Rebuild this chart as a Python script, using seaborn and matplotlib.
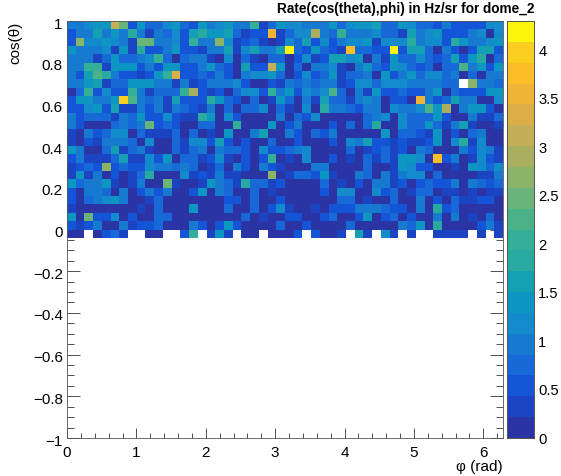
# ROOT style rate map of cos(theta) vs phi
import pandas as pd
import numpy as np
import seaborn as sns
import matplotlib
matplotlib.use('Agg')
import matplotlib.pyplot as plt
from matplotlib.colors import ListedColormap
from matplotlib.transforms import ScaledTranslation

nan = float('nan')

# rate per bin, top row (cos = 1) first, 50 phi bins per row
rate = [
 [1.0,0.9,1.2,1.4,1.3,3.2,2.5,0.5,1.3,0.7,0.7,1.2,1.3,0.8,0.5,1.4, 0.9,1.1,1.3,1.0,1.0,2.0,0.4,0.8,1.5,1.2,1.2,1.0,1.0,1.0,1.3,0.7,1.1, 1.4,1.5,1.7,0.8,0.8,1.5,1.2,0.7,0.7,0.5,0.9,0.6,0.6,0.6,0.6,1.1,1.1],
 [0.5,1.0,1.0,1.7,1.0,1.4,1.0,1.9,1.0,0.3,1.0,0.8,1.2,0.6,1.6,1.8, 1.3,1.3,1.7,0.7,0.3,0.5,0.5,3.6,0.3,0.7,1.2,1.2,3.0,1.0,0.7,2.0,1.0, 1.0,1.0,1.1,0.8,0.7,0.3,1.6,1.0,1.2,1.3,0.6,0.6,0.6,0.9,1.1,0.2,1.2],
 [0.5,2.6,1.2,1.2,1.4,1.2,0.9,0.3,2.5,2.5,1.0,0.9,1.2,0.5,2.0,1.0, 1.0,2.6,1.1,0.3,0.5,0.7,0.3,0.2,0.3,1.2,0.7,1.6,0.6,1.2,0.6,1.0,1.2, 1.1,1.4,0.3,1.2,1.2,1.1,1.8,1.0,1.1,1.2,0.6,1.9,1.5,0.9,1.0,1.1,1.3],
 [1.4,1.0,1.0,1.0,1.2,0.3,1.5,0.3,1.8,0.6,0.6,1.0,1.5,0.5,0.6,0.3, 1.0,1.0,1.7,0.4,1.1,1.6,1.0,1.0,1.7,4.3,0.8,0.6,1.5,0.8,0.5,0.3,3.8, 0.7,0.7,0.5,0.5,4.1,0.5,1.7,1.7,0.8,0.2,1.0,0.6,0.2,0.6,1.6,1.7,0.6],
 [1.0,1.0,1.0,0.3,0.7,1.5,0.8,0.8,1.0,1.1,2.0,0.8,0.2,0.8,0.9,1.0, 0.3,0.2,1.2,0.2,0.8,0.4,0.2,0.7,0.7,0.2,0.5,1.1,0.4,0.6,1.6,1.7,1.2, 1.4,0.2,0.9,0.4,1.3,0.8,0.8,1.1,0.7,0.6,0.8,1.6,0.5,1.3,1.9,0.2,0.8],
 [1.0,1.0,2.0,2.0,0.3,1.4,1.3,1.3,0.5,0.9,0.5,1.3,1.3,0.6,0.6,0.9, 1.5,0.8,0.6,0.2,1.6,0.5,0.5,3.2,1.5,0.2,0.8,0.2,1.0,1.0,1.2,0.4,0.2, 0.9,1.5,0.8,0.5,1.3,1.2,0.8,0.5,0.7,0.2,0.8,0.8,2.3,0.9,1.3,0.5,1.5],
 [1.0,0.6,1.6,2.2,1.9,1.0,0.5,0.5,0.3,0.6,1.3,2.1,3.3,0.6,0.5,0.8, 0.5,1.0,0.5,0.2,0.9,1.2,1.2,1.4,0.7,0.2,0.5,1.2,0.5,0.7,1.3,0.3,0.8, 0.8,0.9,0.2,1.5,0.5,0.9,1.3,0.8,1.2,1.2,0.8,0.9,0.2,0.8,0.2,0.9,1.0],
 [1.0,1.0,1.5,1.7,0.3,0.8,0.8,1.3,1.3,1.3,1.0,1.0,0.3,1.0,0.3,0.6, 0.9,1.0,0.9,1.2,0.6,0.2,0.2,0.6,0.3,1.0,0.8,1.0,0.7,0.9,1.0,0.3,0.5, 1.2,1.2,0.7,1.2,1.2,1.2,0.9,1.0,1.0,1.0,0.7,0.8,nan,2.6,0.9,1.0,0.7],
 [0.2,0.7,2.1,0.6,1.2,0.6,0.6,2.0,0.9,0.4,0.7,0.7,0.8,2.1,2.8,0.5, 0.3,0.5,0.2,0.7,1.2,1.2,0.6,2.0,0.9,1.4,0.6,1.1,1.0,1.2,2.3,0.7,0.2, 1.0,0.3,1.3,0.5,0.5,0.7,0.6,0.6,1.0,1.3,0.2,0.8,0.6,0.6,0.6,1.3,1.3],
 [0.5,1.3,1.3,1.0,0.9,1.3,3.9,2.3,1.0,0.7,1.0,0.3,1.6,0.5,0.5,0.5, 1.8,1.3,0.8,0.5,0.2,0.7,0.2,0.3,1.4,0.7,0.2,0.9,0.4,1.7,0.8,0.7,0.3, 1.0,1.2,1.0,0.2,0.6,0.6,0.2,3.6,1.0,0.5,0.7,1.6,1.0,1.0,0.2,0.2,1.2],
 [0.6,0.5,1.1,1.5,0.6,1.7,0.4,0.3,1.0,0.6,0.9,0.3,1.0,0.8,0.5,0.3, 1.0,0.2,0.8,0.2,0.7,0.7,1.2,0.2,0.7,0.4,0.2,1.2,0.2,1.8,1.0,1.0,0.7, 0.5,1.0,1.0,0.2,1.1,1.0,1.0,1.1,2.2,1.4,3.0,0.2,1.0,1.3,1.3,0.5,0.2],
 [0.9,0.6,0.8,0.8,0.8,0.3,1.0,0.8,1.5,0.5,0.5,1.2,0.6,0.3,0.3,1.9, 1.4,0.2,1.2,0.6,0.2,0.2,0.2,0.2,1.0,0.2,0.7,0.5,1.1,0.2,0.2,0.2,0.2, 0.2,0.8,0.9,1.1,0.2,1.2,0.8,0.7,0.7,1.4,0.5,0.2,0.2,0.9,0.3,0.3,0.7],
 [0.9,0.5,0.2,0.2,0.2,0.7,0.9,0.8,0.9,2.4,0.5,0.8,0.6,0.2,0.2,0.8, 0.8,0.2,0.2,2.0,0.2,0.2,0.2,1.4,0.2,0.6,1.0,0.2,0.2,0.2,0.6,0.2,0.7, 0.2,0.7,1.8,0.2,0.2,1.2,0.7,0.7,1.4,0.8,0.3,1.0,1.7,0.4,0.2,0.2,0.3],
 [0.4,0.2,1.0,0.6,0.7,1.2,1.2,0.2,0.8,0.3,0.3,0.3,0.7,0.2,0.7,0.2, 0.3,0.2,1.3,0.2,0.2,1.0,1.6,0.2,0.2,1.0,0.5,0.2,0.7,0.6,1.0,0.2,0.2, 0.2,0.2,0.2,1.3,0.2,0.7,0.7,0.5,0.3,1.4,0.2,0.5,0.2,0.8,1.0,0.2,0.2],
 [0.3,0.2,0.6,0.3,1.0,1.0,1.0,0.8,0.2,1.2,0.2,0.2,0.7,0.3,1.2,1.2, 0.6,1.7,0.5,0.2,0.5,0.2,0.2,0.7,0.2,0.2,0.6,0.2,0.2,0.2,0.6,0.2,1.1, 0.9,1.6,0.6,0.6,0.4,0.5,0.4,0.3,0.6,1.4,0.2,1.1,1.9,0.4,1.2,0.2,0.2],
 [1.3,0.9,0.2,0.2,0.7,1.7,0.3,0.8,1.0,0.3,0.2,0.2,0.7,0.4,0.7,0.9, 0.2,0.9,0.8,0.7,0.5,0.2,1.1,0.6,0.5,0.7,0.9,1.1,0.2,0.2,0.2,0.2,0.8, 0.2,0.3,0.6,0.7,0.4,0.6,0.2,1.0,0.7,0.2,0.2,0.2,0.9,0.5,1.1,1.0,0.3],
 [0.5,1.0,0.3,0.3,0.3,0.7,1.6,0.3,0.3,1.1,0.6,1.4,0.2,0.7,0.8,0.4, 0.5,1.1,0.4,0.2,0.5,0.2,0.5,2.0,0.2,0.4,0.2,1.1,0.2,0.2,0.6,0.2,0.4, 0.2,0.7,0.4,0.7,0.4,1.3,1.3,1.1,0.2,3.8,0.6,0.9,0.2,0.4,1.1,0.6,0.3],
 [0.3,0.6,0.8,0.6,2.6,0.5,0.7,0.6,0.6,1.1,1.0,0.9,0.7,0.9,0.8,0.2, 0.3,0.8,0.2,0.9,0.6,0.2,1.0,0.6,0.4,0.2,0.2,0.2,1.0,1.0,0.2,0.2,0.2, 0.2,0.7,0.2,0.2,0.4,1.3,1.2,0.5,0.5,0.2,0.2,0.4,0.2,1.5,1.2,0.7,1.2],
 [0.3,1.4,0.3,0.9,0.2,0.5,0.2,0.3,0.8,1.9,0.2,0.2,0.2,1.1,0.3,0.6, 0.3,1.0,0.4,0.3,0.2,0.2,0.2,2.7,0.2,0.4,0.7,0.7,0.5,1.5,0.4,0.2,0.2, 1.0,0.7,0.2,1.0,0.3,1.0,1.2,1.2,0.2,0.8,0.2,0.2,0.2,0.2,0.3,0.3,1.0],
 [1.3,0.7,0.9,0.9,1.3,0.3,0.2,0.4,0.9,0.2,0.2,2.4,0.4,0.2,0.2,0.3, 1.4,1.0,0.7,0.4,1.9,0.7,0.7,0.3,0.5,0.2,0.2,0.2,0.2,0.8,0.2,0.4,0.2, 0.6,0.2,1.0,1.0,0.3,0.5,0.2,0.6,0.7,0.5,0.5,0.9,0.2,1.0,0.7,0.5,0.8],
 [0.5,0.2,0.9,0.9,0.7,0.2,0.9,0.2,0.5,0.9,0.5,0.9,0.2,0.2,0.5,1.4, 0.2,1.0,0.7,0.2,0.2,0.7,0.2,0.4,0.2,0.2,0.2,0.2,0.2,0.6,0.2,1.1,1.1, 0.2,0.2,1.1,0.5,0.7,0.2,0.4,0.8,0.7,0.2,0.4,0.4,0.2,0.4,0.2,0.4,0.3],
 [0.5,0.2,0.7,1.0,1.1,1.5,1.0,0.2,0.2,0.4,0.8,0.2,0.2,0.2,0.2,0.2, 0.2,0.2,0.5,0.5,0.2,0.7,0.2,0.2,0.5,0.2,0.2,0.2,0.2,0.2,0.2,0.7,0.7, 0.2,0.4,0.2,0.2,0.7,0.2,0.2,0.9,0.2,0.5,0.2,0.8,0.4,0.4,0.6,0.5,0.2],
 [0.4,0.2,0.2,0.2,0.2,0.2,0.2,0.2,0.4,0.2,0.7,0.2,0.2,0.2,1.4,0.2, 0.2,0.2,0.7,0.2,0.2,0.7,0.2,0.5,1.2,0.4,0.2,0.2,0.4,0.2,0.5,0.6,0.5, 0.9,1.0,1.0,0.7,0.5,0.5,0.2,0.9,0.2,1.9,0.5,0.8,0.2,0.2,0.2,0.2,0.2],
 [1.4,0.2,2.4,0.5,0.5,1.1,0.2,0.5,0.2,0.2,0.7,0.7,0.2,0.2,0.2,0.2, 0.2,0.2,0.2,0.2,0.8,0.2,0.4,0.2,0.2,0.5,0.5,0.2,0.2,0.6,0.8,0.2,0.2, 0.6,1.5,0.2,0.5,0.8,0.2,0.5,0.2,0.2,1.0,0.2,0.9,0.2,0.4,0.2,0.7,0.2],
 [0.5,0.3,0.5,0.9,0.2,0.2,0.9,0.3,0.5,0.5,0.7,0.2,0.2,0.2,1.0,0.5, 0.2,0.5,1.4,0.5,0.2,0.2,0.2,0.2,0.8,0.2,0.2,0.6,0.2,0.2,0.2,0.2,0.7, 0.2,0.2,0.2,0.2,0.2,0.9,0.7,1.3,0.2,1.9,0.2,0.2,0.2,0.2,0.6,1.0,0.3],
 [0.2,0.2,nan,0.2,0.5,0.7,0.3,nan,nan,0.2,0.2,nan,nan,0.6,2.1,nan, 0.3,1.5,0.3,nan,0.2,0.2,nan,0.2,0.2,0.2,0.6,nan,0.5,0.2,0.2,0.4,nan, 1.7,0.3,nan,1.2,0.3,nan,0.3,nan,nan,0.3,0.3,0.3,0.3,nan,0.3,nan,0.3],
]

x_ticks = [0, 1, 2, 3, 4, 5, 6]
y_ticks = [-1, -0.8, -0.6, -0.4, -0.2, 0, 0.2, 0.4, 0.6, 0.8, 1]
y_labels = ['\u22121', '\u22120.8', '\u22120.6', '\u22120.4', '\u22120.2', '0', '0.2', '0.4', '0.6', '0.8', '1']
z_ticks = [0, 0.5, 1, 1.5, 2, 2.5, 3, 3.5, 4]
z_labels = ['0', '0.5', '1', '1.5', '2', '2.5', '3', '3.5', '4']

sns.set_style('white')
plt.rcParams['font.family'] = ['Liberation Sans', 'DejaVu Sans']
plt.rcParams['text.color'] = 'black'
plt.rcParams['xtick.labelcolor'] = 'black'
plt.rcParams['ytick.labelcolor'] = 'black'

# the 20 colour bands of the palette bar, bottom to top
bands = ListedColormap([
    '#2a34a5', '#1b44c3', '#1455d7', '#1669d7', '#167ad0', '#128acb', '#0e96c3', '#14a0b2',
    '#28aaa0', '#32af96', '#4bb287', '#69b478', '#8cb469', '#aaaf5f', '#c3af55', '#dcaf46',
    '#f0b437', '#fabe28', '#facd1e', '#faf50a'])

W, H = 561, 476
fig = plt.figure(figsize=(W / 100, H / 100), dpi=100)
ax = fig.add_axes([67 / W, 1 - 438 / H, 436 / W, 417 / H])
cax = fig.add_axes([507 / W, 1 - 438 / H, 27 / W, 417 / H])

sns.heatmap(pd.DataFrame(rate), ax=ax, cbar_ax=cax, cmap=bands, vmin=0, vmax=4.3,
            xticklabels=False, yticklabels=False)

# heatmap axes count bins, convert to phi and cos(theta)
px = lambda v: np.asarray(v) / (2 * np.pi) * 50
py = lambda v: (1 - np.asarray(v)) / 0.04

ax.set_xlim(0, 50)
ax.set_ylim(50, 0)
ax.set_xticks(px(x_ticks))
ax.set_xticklabels(x_ticks, fontsize=11)
ax.set_xticks(px(np.arange(0, 6.21, 0.2)), minor=True)
ax.set_yticks(py(y_ticks))
ax.set_yticklabels(y_labels, fontsize=11)
ax.set_yticks(py(np.arange(-1, 1.01, 0.05)), minor=True)

ax.tick_params(axis='x', which='major', direction='in', length=7.2, width=0.6, color='#333333', labelcolor='black', top=True, bottom=True, pad=5.5)
ax.tick_params(axis='x', which='minor', direction='in', length=3.6, width=0.6, color='#333333', top=True, bottom=True)
ax.tick_params(axis='y', which='major', direction='in', length=9.4, width=0.6, color='#333333', labelcolor='black', left=True, right=True, pad=3)
ax.tick_params(axis='y', which='minor', direction='in', length=4.7, width=0.6, color='#333333', left=True, right=True)
for s in ax.spines.values():
    s.set_visible(True)
    s.set_linewidth(0.6)
    s.set_color('#555555')

# y labels sit a little under their ticks in the original
for lab in ax.get_yticklabels():
    lab.set_transform(lab.get_transform() + ScaledTranslation(0, -2 / 100, fig.dpi_scale_trans))

cax.set_yticks(z_ticks)
cax.set_yticklabels(z_labels, fontsize=10.6)
cax.minorticks_off()
cax.tick_params(axis='y', direction='in', length=10.8, width=0.6, color='#333333', labelcolor='black', right=True, left=False, pad=3)
for s in cax.spines.values():
    s.set_visible(True)
    s.set_linewidth(0.6)
    s.set_color('#555555')

fig.text(503 / W, 1 - 467 / H, '\u03c6 (rad)', ha='right', va='center', fontsize=11, color='black')
fig.text(15 / W, 1 - 22 / H, 'cos(\u03b8)', ha='center', va='top', rotation=90, fontsize=11, color='black')
fig.text(534 / W, 1 - 9 / H, 'Rate(cos(theta),phi) in Hz/sr for dome_2', ha='right', va='center',
         fontsize=9.85, fontweight='bold', color='black')

fig.savefig('out.png', dpi=100)
